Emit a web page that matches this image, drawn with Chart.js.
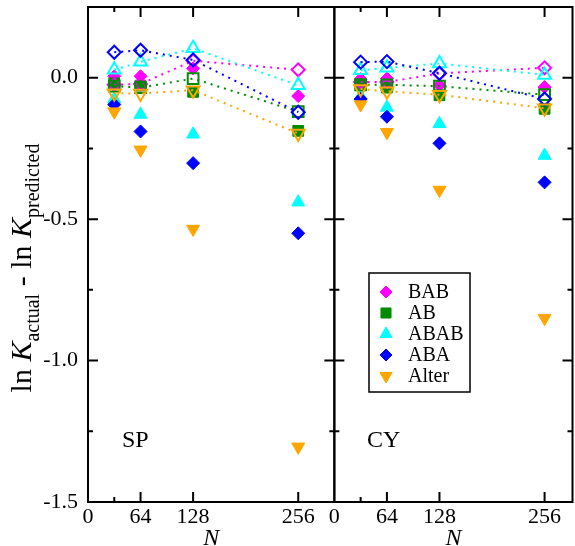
<!DOCTYPE html>
<html>
<head>
<meta charset="utf-8">
<script src="https://cdn.jsdelivr.net/npm/chart.js@4.4.0/dist/chart.umd.min.js"></script>
<style>
html, body { margin: 0; padding: 0; background: #fff; }
#wrap { width: 575px; height: 546px; }
</style>
</head>
<body>
<div id="wrap"><canvas id="chart" width="575" height="546"></canvas></div>
<script>
// chain length N
const nValues = [32, 64, 128, 256];
const seriesNames = ["BAB", "AB", "ABAB", "ABA", "Alter"];

// SP panel, filled symbols
const spBAB = [0.005, 0.005, 0.033, -0.065];
const spAB = [-0.02, -0.028, -0.05, -0.188];
const spABAB = [-0.075, -0.13, -0.2, -0.44];
const spABA = [-0.095, -0.19, -0.302, -0.55];
const spAlter = [-0.12, -0.255, -0.535, -1.305];
// SP panel, open symbols (dotted)
const spBABopen = [-0.025, -0.022, 0.06, 0.028];
const spABopen = [-0.03, -0.035, -0.003, -0.12];
const spABABopen = [0.028, 0.056, 0.104, -0.027];
const spABAopen = [0.09, 0.097, 0.063, -0.122];
const spAlteropen = [-0.055, -0.056, -0.044, -0.197];

// CY panel, filled symbols
const cyBAB = [-0.005, -0.003, -0.027, -0.033];
const cyAB = [-0.022, -0.035, -0.062, -0.11];
const cyABAB = [-0.065, -0.105, -0.163, -0.275];
const cyABA = [-0.075, -0.138, -0.232, -0.37];
const cyAlter = [-0.095, -0.193, -0.397, -0.85];
// CY panel, open symbols (dotted)
const cyBABopen = [-0.015, -0.015, 0.015, 0.035];
const cyABopen = [-0.025, -0.025, -0.03, -0.06];
const cyABABopen = [0.026, 0.035, 0.05, 0.01];
const cyABAopen = [0.055, 0.057, 0.016, -0.075];
const cyAlteropen = [-0.04, -0.048, -0.06, -0.108];

const xMajor = [64, 128, 256];
const xMinor = [32];
const yMajor = [0, -0.5, -1.0, -1.5];
const yMinor = [0.25, -0.25, -0.75, -1.25];

const styles = {
    BAB: { color: "#ff00ff", shape: "rectRot", rot: 0, r: 6.5 },
    AB: { color: "#008b00", shape: "rect", rot: 0, r: 7.6 },
    ABAB: { color: "#00ffff", shape: "triangle", rot: 0, r: 7.5 },
    ABA: { color: "#0000ff", shape: "rectRot", rot: 0, r: 6.5 },
    Alter: { color: "#ffa500", shape: "triangle", rot: 180, r: 7.5 }
};

var drawIndex = 0;
function makeSet(name, values, axis, open) {
    var st = styles[name];
    drawIndex++;
    return {
        label: name,
        data: values.map(function (v, i) { return { x: nValues[i], y: v }; }),
        xAxisID: axis,
        yAxisID: "y",
        order: 100 - drawIndex,
        showLine: open,
        borderColor: st.color,
        borderWidth: 2,
        borderDash: [2, 5],
        fill: false,
        pointStyle: st.shape,
        rotation: st.rot,
        pointRadius: st.r,
        pointHoverRadius: st.r,
        pointBorderColor: st.color,
        pointBackgroundColor: open ? "rgba(0,0,0,0)" : st.color,
        pointBorderWidth: open ? 2 : 1
    };
}

const datasets = [
    makeSet("BAB", spBAB, "x1", false),
    makeSet("AB", spAB, "x1", false),
    makeSet("ABAB", spABAB, "x1", false),
    makeSet("ABA", spABA, "x1", false),
    makeSet("Alter", spAlter, "x1", false),
    makeSet("BAB", cyBAB, "x2", false),
    makeSet("AB", cyAB, "x2", false),
    makeSet("ABAB", cyABAB, "x2", false),
    makeSet("ABA", cyABA, "x2", false),
    makeSet("Alter", cyAlter, "x2", false),
    makeSet("BAB", spBABopen, "x1", true),
    makeSet("AB", spABopen, "x1", true),
    makeSet("ABAB", spABABopen, "x1", true),
    makeSet("ABA", spABAopen, "x1", true),
    makeSet("Alter", spAlteropen, "x1", true),
    makeSet("BAB", cyBABopen, "x2", true),
    makeSet("AB", cyABopen, "x2", true),
    makeSet("ABAB", cyABABopen, "x2", true),
    makeSet("ABA", cyABAopen, "x2", true),
    makeSet("Alter", cyAlteropen, "x2", true)
];

const serif = "'Liberation Serif', 'Times New Roman', serif";

// frame and inward ticks on every side of both panels
const framePlugin = {
    id: "frame",
    afterDatasetsDraw: function (chart) {
        var ctx = chart.ctx;
        var ys = chart.scales.y;
        var top = chart.chartArea.top, bottom = chart.chartArea.bottom;
        ctx.save();
        ctx.strokeStyle = "#000";
        ctx.lineWidth = 2;
        ["x1", "x2"].forEach(function (id) {
            var s = chart.scales[id];
            ctx.strokeRect(s.left, top, s.right - s.left, bottom - top);
            ctx.beginPath();
            xMajor.concat(xMinor).forEach(function (v) {
                var len = xMajor.indexOf(v) >= 0 ? 10 : 5;
                var px = s.getPixelForValue(v);
                ctx.moveTo(px, bottom); ctx.lineTo(px, bottom - len);
                ctx.moveTo(px, top); ctx.lineTo(px, top + len);
            });
            yMajor.concat(yMinor).forEach(function (v) {
                var len = yMajor.indexOf(v) >= 0 ? 10 : 5;
                var py = ys.getPixelForValue(v);
                ctx.moveTo(s.left, py); ctx.lineTo(s.left + len, py);
                ctx.moveTo(s.right, py); ctx.lineTo(s.right - len, py);
            });
            ctx.stroke();
        });
        ctx.restore();
    }
};

// y title with subscripts, panel names, legend box
const labelPlugin = {
    id: "labels",
    afterDraw: function (chart) {
        var ctx = chart.ctx;
        ctx.save();
        ctx.fillStyle = "#000";
        ctx.textBaseline = "alphabetic";

        var parts = [
            { t: "ln ", f: "30px " + serif, dy: 0 },
            { t: "K", f: "italic 30px " + serif, dy: 0 },
            { t: "actual", f: "20px " + serif, dy: 8 },
            { t: " - ln ", f: "30px " + serif, dy: 0 },
            { t: "K", f: "italic 30px " + serif, dy: 0 },
            { t: "predicted", f: "20px " + serif, dy: 8 }
        ];
        var total = 0;
        parts.forEach(function (p) { ctx.font = p.f; p.w = ctx.measureText(p.t).width; total += p.w; });
        ctx.translate(31, 268);
        ctx.rotate(-Math.PI / 2);
        var x = -total / 2;
        parts.forEach(function (p) {
            ctx.font = p.f;
            ctx.fillText(p.t, x, p.dy);
            x += p.w;
        });
        ctx.setTransform(1, 0, 0, 1, 0, 0);

        ctx.font = "24px " + serif;
        ctx.fillText("SP", 122, 447);
        ctx.fillText("CY", 367, 447);

        // legend
        ctx.lineWidth = 1.5;
        ctx.strokeStyle = "#000";
        ctx.strokeRect(369, 273, 101, 119);
        ctx.font = "20px " + serif;
        ctx.textBaseline = "middle";
        seriesNames.forEach(function (name, i) {
            var st = styles[name];
            var ry = 292 + i * 21;
            ctx.fillStyle = st.color;
            ctx.strokeStyle = st.color;
            ctx.lineWidth = 1;
            Chart.helpers.drawPoint(ctx, { pointStyle: st.shape, rotation: st.rot, radius: st.r - 0.5, borderWidth: 1 }, 386, ry);
            ctx.fillStyle = "#000";
            ctx.fillText(name, 408, ry + 1);
        });
        ctx.restore();
    }
};

function xAxis(max) {
    return {
        type: "linear",
        position: "bottom",
        stack: "n",
        stackWeight: max,
        min: 0,
        max: max,
        grid: { display: false },
        border: { display: false },
        afterBuildTicks: function (s) { s.ticks = [0].concat(xMajor).map(function (v) { return { value: v }; }); },
        afterFit: function (s) {
            s.height = 44;
            s.paddingLeft = 0; s.paddingRight = 0; s.paddingTop = 0; s.paddingBottom = 0;
        },
        ticks: { color: "#000", font: { family: serif, size: 22 }, padding: -6, maxRotation: 0, autoSkip: false },
        title: { display: true, text: "N", color: "#000", font: { family: serif, size: 24, style: "italic", lineHeight: 0.65 }, padding: { top: 0, bottom: 0 } }
    };
}

new Chart(document.getElementById("chart"), {
    type: "scatter",
    data: { datasets: datasets },
    options: {
        responsive: false,
        animation: false,
        devicePixelRatio: 1,
        layout: { autoPadding: false, padding: { top: 7, right: 2.5, left: 0, bottom: 0 } },
        plugins: { legend: { display: false }, tooltip: { enabled: false } },
        scales: {
            x1: xAxis(300),
            x2: xAxis(290),
            y: {
                type: "linear",
                position: "left",
                min: -1.5,
                max: 0.25,
                grid: { display: false },
                border: { display: false },
                afterBuildTicks: function (s) { s.ticks = yMajor.map(function (v) { return { value: v }; }); },
                afterFit: function (s) {
                    s.width = 88;
                    s.paddingTop = 0; s.paddingBottom = 0; s.paddingLeft = 0; s.paddingRight = 0;
                },
                ticks: {
                    color: "#000",
                    font: { family: serif, size: 22 },
                    padding: 2,
                    callback: function (v) { return Number(v).toFixed(1); }
                }
            }
        }
    },
    plugins: [framePlugin, labelPlugin]
});
</script>
</body>
</html>
